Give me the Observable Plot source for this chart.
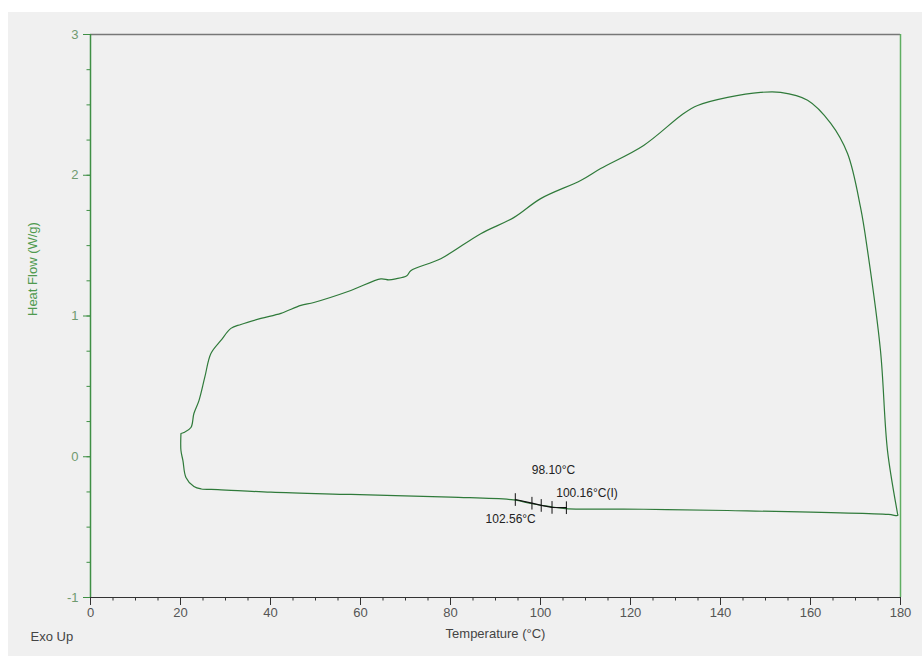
<!DOCTYPE html>
<html><head><meta charset="utf-8">
<script src="https://cdn.jsdelivr.net/npm/d3@7"></script>
<script src="https://cdn.jsdelivr.net/npm/@observablehq/plot@0.6"></script>
<style>
body{margin:0;background:#fff;}
#panel{position:absolute;left:8px;top:12px;width:914px;height:644px;background:#f0f0f0;}
#chart{position:absolute;left:0;top:0;}
</style></head><body><div id="panel"></div><div id="chart"></div>
<script>
// DSC trace (temperature °C, heat flow W/g)
const tempC = [20.10, 20.76, 22.32, 22.98, 24.10, 25.40, 26.76, 28.98, 31.20, 33.42, 37.86, 42.31, 46.75, 49.64, 57.86,
  64.52, 66.29, 67.84, 70.29, 71.17, 77.84, 86.72, 94.05, 100.04, 108.93, 113.37, 122.92, 131.80, 134.91,
  141.58, 148.91, 153.35, 159.35, 164.46, 168.23, 171.12, 172.67, 175.55, 177.11, 179.33, 179.40,
  177.32, 141.57, 122.92, 105.60, 101.82, 97.82, 94.05, 80.04, 57.86, 40.08, 28.31, 24.60, 22.98, 21.21, 20.54, 20.10, 20.10];
const heatFlow = [0.165, 0.172, 0.208, 0.307, 0.399, 0.565, 0.733, 0.826, 0.912, 0.940, 0.983, 1.019, 1.075, 1.096, 1.181,
  1.264, 1.257, 1.264, 1.286, 1.322, 1.407, 1.585, 1.699, 1.834, 1.963, 2.048, 2.212, 2.439, 2.496,
  2.553, 2.589, 2.589, 2.533, 2.370, 2.154, 1.771, 1.466, 0.755, 0.044, -0.403, -0.417,
  -0.410, -0.382, -0.373, -0.368, -0.353, -0.332, -0.307, -0.287, -0.268, -0.252, -0.233, -0.229, -0.212, -0.147, -0.027, 0.044, 0.165];

// Glass transition analysis marks
const tgTemps = [94.4, 98.1, 100.16, 102.56, 105.75];
const tgFlow = [-0.304, -0.330, -0.346, -0.360, -0.362];
const tgLabels = ["98.10°C", "100.16°C(I)", "102.56°C"];
const tgLabelX = [98.05, 103.5, 87.8];
const tgLabelY = [-0.098, -0.259, -0.441];

const xTicks = [0, 20, 40, 60, 80, 100, 120, 140, 160, 180];
const yTicks = [-1, 0, 1, 2, 3];

const trace = tempC.map((t, i) => ({t, h: heatFlow[i]}));
const tg = tgTemps.map((t, i) => ({t, h: tgFlow[i]}));
const labels = tgLabels.map((s, i) => ({s, t: tgLabelX[i], h: tgLabelY[i]}));

const green = "#3f8f45";
const plot = Plot.plot({
  width: 922, height: 656,
  marginLeft: 90, marginRight: 22, marginTop: 34, marginBottom: 59,
  style: {background: "transparent", fontFamily: "'Liberation Sans', Arial, sans-serif", fontSize: "13px"},
  x: {domain: [0, 180]},
  y: {domain: [-1, 3]},
  marks: [
    Plot.axisX(d3.range(0, 181, 5), {tickSize: 3.5, tickFormat: () => "", stroke: "#333", label: null}),
    Plot.axisX(xTicks, {tickSize: 8, tickPadding: 2, stroke: "#333", fill: "#555", label: null, tickFormat: d => String(d)}),
    Plot.axisY(d3.range(-1, 3.01, 0.25), {tickSize: 3.5, tickFormat: () => "", stroke: green, label: null}),
    Plot.axisY(yTicks, {tickSize: 7, tickPadding: 5, stroke: green, fill: "#6f9a6f", label: null, tickFormat: d => String(d)}),
    Plot.ruleY([3], {stroke: "#777", strokeWidth: 1.5}),
    Plot.ruleX([180], {stroke: "#5fae62", strokeWidth: 1.5}),
    Plot.ruleX([0], {stroke: green, strokeWidth: 1.5}),
    Plot.ruleY([-1], {stroke: "#333", strokeWidth: 1.2}),
    Plot.line(trace, {x: "t", y: "h", stroke: "#2f7a3a", strokeWidth: 1.2, curve: "catmull-rom"}),
    Plot.line(tg, {x: "t", y: "h", stroke: "#111", strokeWidth: 1.2}),
    Plot.link(tg, {x1: "t", x2: "t", y1: d => d.h - 0.045, y2: d => d.h + 0.045, stroke: "#111", strokeWidth: 1}),
    Plot.text(labels, {x: "t", y: "h", text: "s", textAnchor: "start", fill: "#222", fontSize: 12}),
    Plot.text(["Temperature (°C)"], {frameAnchor: "bottom", dy: 40, fill: "#444"}),
    Plot.text(["Exo Up"], {frameAnchor: "bottom-left", dx: -60, dy: 43, textAnchor: "start", fill: "#444"}),
    Plot.text(["Heat Flow (W/g)"], {frameAnchor: "left", dx: -58, rotate: -90, fill: "#4f9a4f"})
  ]
});
document.getElementById("chart").appendChild(plot);
</script></body></html>
